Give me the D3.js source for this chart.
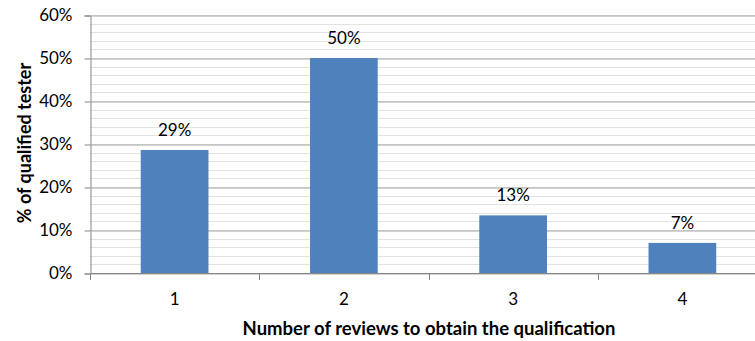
<!DOCTYPE html>
<html>
<head>
<meta charset="utf-8">
<script src="https://cdn.jsdelivr.net/npm/d3@7"></script>
<style>
	body { margin: 0; background: #fff; }
	svg text { font-family: Lato, "Open Sans", sans-serif; fill: #000; }
</style>
</head>
<body>
<div id="chart"></div>
<script>
var categories = ["1", "2", "3", "4"];
var shares = [0.286, 0.50, 0.134, 0.070];
var yTicks = [0, 0.1, 0.2, 0.3, 0.4, 0.5, 0.6];
var minorTicks = d3.range(0, 0.601, 0.02);

var conf = {
	width: 755, height: 341,
	left: 90, right: 767, top: 15, bottom: 273
};

var $svg = d3.select("#chart").append("svg")
	.attr("width", conf.width)
	.attr("height", conf.height);

var x = d3.scaleBand()
	.domain(categories)
	.range([conf.left, conf.right])
	.paddingInner(0.6)
	.paddingOuter(0.3);

var y = d3.scaleLinear()
	.domain([0, 0.6])
	.range([conf.bottom, conf.top]);

// minor gridlines every 2%
$svg.append("g").selectAll("line.minor")
	.data(minorTicks)
	.enter().append("line")
	.attr("class", "minor")
	.attr("x1", conf.left).attr("x2", conf.right)
	.attr("y1", function(d) { return Math.round(y(d)) + 0.5; })
	.attr("y2", function(d) { return Math.round(y(d)) + 0.5; })
	.attr("stroke", "#e3e3e3")
	.attr("stroke-width", 1);

// major gridlines + left axis
var yAxis = d3.axisLeft(y)
	.tickValues(yTicks)
	.tickFormat(d3.format(".0%"))
	.tickSize(6)
	.tickPadding(12);

var $y = $svg.append("g")
	.attr("transform", "translate(" + (conf.left + 0.5) + ",0.5)")
	.call(yAxis);
$y.select(".domain").attr("stroke", "#868686");
$y.selectAll(".tick line").attr("stroke", "#868686");
$y.selectAll(".tick").append("line")
	.attr("x1", 0).attr("x2", conf.right - conf.left)
	.attr("stroke", "#a6a6a6");
$y.selectAll(".tick text")
	.style("font-size", "17px")
	.attr("fill", "#000");

// bars
$svg.append("g").selectAll("rect.bar")
	.data(shares)
	.enter().append("rect")
	.attr("class", "bar")
	.attr("x", function(d, i) { return x(categories[i]); })
	.attr("y", function(d) { return y(d); })
	.attr("width", x.bandwidth())
	.attr("height", function(d) { return y(0) - y(d); })
	.attr("fill", "#4f81bd");

// data labels
$svg.append("g").selectAll("text.label")
	.data(shares)
	.enter().append("text")
	.attr("class", "label")
	.attr("x", function(d, i) { return x(categories[i]) + x.bandwidth() / 2; })
	.attr("y", function(d) { return y(d) - 14; })
	.attr("text-anchor", "middle")
	.style("font-size", "17px")
	.text(d3.format(".0%"));

// bottom axis with category separators
var xSep = d3.range(categories.length + 1).map(function(i) {
	return conf.left + i * (conf.right - conf.left) / categories.length;
});
$svg.append("line")
	.attr("x1", conf.left).attr("x2", conf.right)
	.attr("y1", conf.bottom + 0.5).attr("y2", conf.bottom + 0.5)
	.attr("stroke", "#868686");
$svg.append("g").selectAll("line.sep")
	.data(xSep)
	.enter().append("line")
	.attr("class", "sep")
	.attr("x1", function(d) { return Math.round(d) + 0.5; })
	.attr("x2", function(d) { return Math.round(d) + 0.5; })
	.attr("y1", conf.bottom).attr("y2", conf.bottom + 7)
	.attr("stroke", "#868686");

$svg.append("g").selectAll("text.cat")
	.data(categories)
	.enter().append("text")
	.attr("class", "cat")
	.attr("x", function(d) { return x(d) + x.bandwidth() / 2; })
	.attr("y", 305)
	.attr("text-anchor", "middle")
	.style("font-size", "17px")
	.text(function(d) { return d; });

// axis titles
$svg.append("text")
	.attr("x", 429)
	.attr("y", 335)
	.attr("text-anchor", "middle")
	.style("font-size", "18.5px")
	.style("font-weight", "bold")
	.text("Number of reviews to obtain the qualification");

$svg.append("text")
	.attr("transform", "translate(31,143) rotate(-90)")
	.attr("text-anchor", "middle")
	.style("font-size", "18px")
	.style("font-weight", "bold")
	.text("% of qualified tester");
</script>
</body>
</html>
